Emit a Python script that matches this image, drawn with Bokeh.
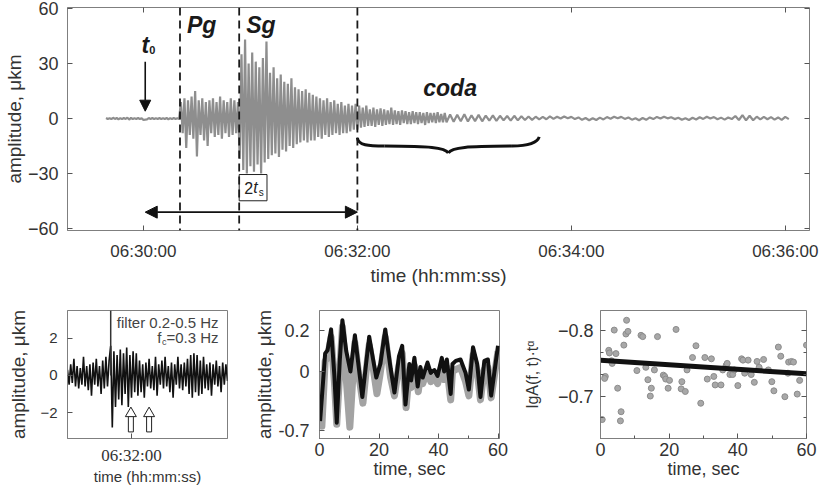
import numpy as np
from bokeh.plotting import figure
from bokeh.layouts import column, row
from bokeh.models import Range1d, FixedTicker, LinearAxis, Span, Arrow, NormalHead
from bokeh.core.properties import value
from bokeh.embed import file_html
from bokeh.resources import INLINE

FONT = "Liberation Sans"
FRAME = "#7f7f7f"
TICK = "#555555"
TXT = "#333333"

# ---------------- top panel: seismogram (seconds after 06:30:00) ----------------
amp_pre = [0.3, -0.2, 0.2, -0.3, 0.4, -0.2, 0.3, -0.4, 0.2, -0.3,
           0.3, -0.2, 0.5, -0.6, 0.4, -0.3, 0.2, -0.2, 0.3, -0.3,
           0.2, -0.8, -0.6, -0.5, 0.3, -0.2, 0.3, -0.3, 0.2, -0.2,
           0.3, -0.3, 0.2, -0.2, 0.3, -0.4, 0.2, -0.3, 0.3, -0.2,
           0.2, -0.3]
amp_pg = [9, -8, 11, -16, 10, -9, 12, -11, 15, -20.7,
          10, -9, 11, -12, 9, -15, 10, -8, 11, -10,
          9, -9, 12, -11, 10, -8, 9, -10, 11, -9,
          10, -8, 9]
amp_sg = [-22, 35, -28, 43, -30, 30, -26, 36, -29, 31,
          -25, 28, -30, 33, -24, 42, -22, 25, -20, 28,
          -19, 22, -21, 24, -17, 20, -18, 19, -15, 22,
          -16, 17, -14, 16, -13, 15, -12]
amp_late = [16, -13, 14, -12, 13, -12, 12, -10, 11, -11,
            10, -9, 11, -10, 9, -9, 10, -8, 8, -9,
            9, -8, 7, -8, 8, -7, 7, -6, 8, -6]
amp_coda = [7, -5, 6, -4.5, 7, -4, 5, -4, 6, -4.5,
            5, -3.5, 5.5, -4, 5, -3.5, 4.5, -3, 6, -3.5,
            4.5, -3, 4, -3.5, 4.5, -2.5, 4, -3, 3.5, -3,
            4, -2.5, 3.5, -3, 3.5, -2.5, 3, -3.5, 3.5, -2.5,
            3, -2, 3, -2.5, 3.5, -2, 2.5, -2, 3, -2]
amp_tail = [2.2, -1.8, 2.0, -1.5, 2.3, -1.6, 1.8, -1.4, 2.0, -1.5,
            1.6, -1.2, 1.7, -1.3, 1.5, -1.0, 1.4, -1.1, 1.5, -1.0,
            1.2, -0.8, 1.1, -0.7, 1.0, -0.5, 0.9, -0.4, 1.2, -0.2,
            1.0, 0.0, 1.1, 0.2, 0.9, -0.3, 0.6, -0.7, 0.3, -0.9,
            0.2, -0.8, 0.5, -0.5, 0.8, -0.1, 1.0, 0.1, 0.9, -0.2,
            0.6, -0.6, 0.2, -0.9, 0.3, -0.7, 0.6, -0.3, 0.9, 0.0,
            1.0, 0.1, 0.7, -0.3, 0.4, -0.7, 0.2, -0.8, 0.4, -0.5,
            0.7, -0.2, 1.0, 0.0, 0.8, -0.4, 0.5, -0.6, 0.6, -0.3,
            1.4, -0.8, 1.9, -1.0, 1.5, -0.9, 1.0, -0.5, 0.9, -0.4,
            0.8, -0.6, 0.6, -0.7, 0.9, -0.3]
seg_starts = [-21, 21, 54, 91, 121, 172]
seg_steps = [1, 1, 1, 1, 1, 2]
segments = [amp_pre, amp_pg, amp_sg, amp_late, amp_coda, amp_tail]

top_xticks = [0, 120, 240, 360]
top_xlabels = ["06:30:00", "06:32:00", "06:34:00", "06:36:00"]
top_yticks = [-60, -30, 0, 30, 60]

t0_time = 1
pg_time = 20.5
sg_time = 53.7
coda_time = 120
brace_end_time = 222
brace_tip_time = 171
coda_label_time = 172

# ---------------- bottom-left: filtered trace ----------------
bl_amp = [0.3, -0.5, 0.6, -0.4, 0.9, -0.6, 0.5, -0.7, 0.4, -0.5,
          1.0, -0.6, 0.5, -0.8, 0.6, -1.1, 0.7, -0.5, 0.9, -0.6,
          0.5, -1.0, 0.8, -0.7, 1.0, -0.6, 0.8, 1.6, -2.8, 1.3,
          -1.7, 1.1, -1.3, 1.4, -1.6, 1.2, -1.0, 1.5, -1.7, 1.1,
          -1.2, 1.3, -0.9, 1.2, -1.1, 0.8, -0.9, 0.6, -1.2, 0.7,
          -0.6, 0.9, -0.7, 0.5, -0.8, 1.0, -1.1, 0.6, -0.5, 0.8,
          -0.7, 1.0, -0.6, 0.5, -0.9, 0.7, -1.2, 0.6, -0.5, 1.0,
          -0.7, 0.6, -0.8, 0.7, -0.6, 0.9, -1.0, 1.1, -1.2, 1.2,
          -0.9, 1.1, -1.1, 0.8, -1.0, 1.0, -0.7, 0.6, -0.8, 0.7,
          -1.1, 0.6, -0.5, 0.8, -0.6, 0.5, -0.9, 0.7, -0.5, 0.6, -0.3]
bl_start = 80
bl_marker_time = 107
bl_arrow_times = [119.6, 131]
bl_xticks = [120]
bl_xlabels = ["06:32:00"]
bl_yticks = [-2, 0, 2]

# ---------------- bottom-middle: envelopes ----------------
black_t = [0.2, 1.2, 1.9, 2.7, 3.9, 5.0, 5.8, 6.8, 7.7, 9.0,
           10.4, 11.9, 13.2, 14.4, 15.6, 16.7, 18.0, 19.1, 20.5, 22.1,
           23.9, 25.2, 26.7, 27.8, 28.9, 30.2, 30.8, 31.9, 33.0, 33.9,
           34.7, 36.3, 37.4, 38.6, 39.7, 41.1, 41.9, 42.8, 44.1, 44.7,
           45.8, 47.4, 49.1, 50.2, 51.6, 53.0, 54.1, 55.4, 56.6, 57.7, 60.0]
black_v = [-0.244, -0.05, 0.089, 0.104, 0.207, -0.02, -0.252, 0.05, 0.252, 0.10,
           0.0, 0.178, 0.02, -0.126, 0.03, 0.171, 0.06, -0.030, 0.04, 0.207,
           0.015, -0.104, 0.074, 0.126, -0.163, 0.037, -0.044, 0.067, -0.074, 0.022,
           -0.030, 0.044, -0.007, 0.007, -0.022, 0.067, 0.0, 0.059, -0.111, 0.037,
           0.052, 0.059, -0.007, -0.089, 0.119, 0.037, -0.126, 0.052, 0.059, -0.119, 0.126]
gray_t = [0.2, 0.8, 1.9, 2.7, 3.9, 5.0, 5.8, 6.8, 7.7, 8.8,
          10.2, 11.9, 13.2, 14.6, 15.6, 16.7, 18.0, 19.3, 20.3, 22.1,
          23.9, 25.2, 26.7, 27.8, 29.1, 30.2, 30.8, 31.9, 33.2, 33.9,
          34.7, 36.3, 37.4, 38.6, 39.7, 41.1, 41.9, 42.8, 44.1, 44.7,
          45.8, 47.4, 49.1, 50.2, 51.6, 53.0, 54.1, 55.4, 56.6, 57.7, 60.0]
gray_v = [0.0, -0.27, 0.05, 0.07, 0.17, -0.05, -0.26, 0.0, 0.22, 0.0,
          -0.274, 0.14, -0.02, -0.156, -0.01, 0.13, 0.02, -0.11, -0.02, 0.17,
          -0.03, -0.12, 0.03, 0.09, -0.178, 0.0, -0.08, 0.03, -0.10, -0.02,
          -0.06, 0.01, -0.05, -0.03, -0.06, 0.03, -0.04, 0.02, -0.14, 0.0,
          0.01, 0.02, -0.05, -0.12, 0.08, 0.0, -0.14, 0.01, 0.02, -0.13, 0.10]
mid_yticks = [-0.289, 0, 0.2]
mid_ylabels = ["-0.7", "0", "0.2"]

# ---------------- bottom-right: scatter + fit ----------------
sc_t = [0.5, 1.4, 1.2, 2.4, 2.6, 3.2, 3.4, 4.0, 4.5, 5.0,
        6.0, 5.8, 6.8, 7.4, 7.6, 8.0, 10.6, 11.8, 12.3, 13.2,
        13.8, 14.5, 14.8, 15.7, 16.6, 18.3, 18.7, 19.0, 19.7, 20.1,
        22.0, 23.5, 24.7, 23.7, 25.2, 26.8, 27.8, 29.2, 30.4, 31.1,
        32.3, 33.0, 33.4, 35.1, 35.6, 36.6, 36.9, 37.7, 38.5, 39.0,
        40.0, 41.1, 41.5, 42.0, 43.0, 43.9, 44.8, 45.6, 46.2, 47.5,
        48.9, 49.9, 50.5, 51.8, 52.5, 53.7, 54.8, 55.6, 56.2, 54.6,
        57.3, 58.0, 60.0]
sc_v = [-0.664, -0.730, -0.727, -0.770, -0.766, -0.754, -0.750, -0.801, -0.765, -0.712,
        -0.676, -0.662, -0.778, -0.795, -0.816, -0.799, -0.739, -0.793, -0.791, -0.744,
        -0.725, -0.700, -0.712, -0.740, -0.791, -0.732, -0.730, -0.726, -0.712, -0.724,
        -0.802, -0.711, -0.707, -0.722, -0.740, -0.759, -0.777, -0.689, -0.759, -0.726,
        -0.757, -0.730, -0.717, -0.717, -0.740, -0.747, -0.750, -0.733, -0.733, -0.740,
        -0.716, -0.757, -0.755, -0.735, -0.755, -0.733, -0.721, -0.753, -0.744, -0.756,
        -0.740, -0.722, -0.708, -0.775, -0.761, -0.699, -0.752, -0.753, -0.752, -0.735,
        -0.703, -0.724, -0.778]
fit_t = [0, 60]
fit_v = [-0.755, -0.734]


def style(p, tick_size, title_size):
    p.outline_line_color = FRAME
    p.background_fill_color = "white"
    p.border_fill_color = "white"
    p.xgrid.visible = False
    p.ygrid.visible = False
    for ax in p.axis:
        ax.axis_line_color = FRAME
        ax.major_tick_in = 5
        ax.major_tick_out = 0
        ax.minor_tick_in = 3
        ax.minor_tick_out = 0
        ax.major_tick_line_color = TICK
        ax.minor_tick_line_color = TICK
        ax.major_label_text_font = FONT
        ax.major_label_text_font_size = tick_size
        ax.major_label_text_color = TXT
        ax.axis_label_text_font = FONT
        ax.axis_label_text_font_style = "normal"
        ax.axis_label_text_font_size = title_size
        ax.axis_label_text_color = TXT


def mirror(p, side, ticks, minor=None):
    ax = LinearAxis(ticker=FixedTicker(ticks=ticks, minor_ticks=minor or []),
                    major_label_overrides={t: "" for t in ticks},
                    major_label_text_font_size="0px", major_label_standoff=0,
                    axis_line_color=None, major_tick_in=5, major_tick_out=0,
                    minor_tick_in=3, minor_tick_out=0,
                    major_tick_line_color=TICK, minor_tick_line_color=TICK)
    p.add_layout(ax, side)


# ================= TOP =================
top = figure(width=820, height=288, output_backend="svg", toolbar_location=None,
             x_range=Range1d(-42.6, 373.6), y_range=Range1d(-61, 60.5),
             min_border_left=66, min_border_right=11, min_border_top=7, min_border_bottom=56)
wave_t = np.concatenate([s + st * np.arange(len(a)) for s, st, a in zip(seg_starts, seg_steps, segments)])
wave_v = np.concatenate([np.asarray(a, dtype=float) for a in segments])
top.line(wave_t, wave_v, line_color="#8e8e8e", line_width=2.2)

style(top, "17px", "19px")
top.xaxis.ticker = FixedTicker(ticks=top_xticks)
top.xaxis.major_label_overrides = dict(zip(top_xticks, top_xlabels))
top.xaxis.major_label_standoff = 11
top.xaxis.axis_label_standoff = 1
top.xaxis.axis_label = "time (hh:mm:ss)"
top.yaxis.ticker = FixedTicker(ticks=top_yticks)
top.yaxis.major_label_standoff = 9
top.yaxis.axis_label_standoff = 0
top.yaxis.axis_label = "amplitude, μkm"
top.yaxis.major_label_text_font_size = "18px"
mirror(top, "above", top_xticks)
mirror(top, "right", top_yticks)

for tt in [pg_time, sg_time, coda_time]:
    top.add_layout(Span(location=tt, dimension="height", line_color="#1a1a1a",
                        line_width=1.8, line_dash="8 5"))

top.add_layout(Arrow(end=NormalHead(size=11, fill_color="#111111", line_color="#111111"),
                     x_start=t0_time, y_start=31, x_end=t0_time, y_end=4,
                     line_width=1.6, line_color="#111111"))
top.add_layout(Arrow(start=NormalHead(size=12, fill_color="#111111", line_color="#111111"),
                     end=NormalHead(size=12, fill_color="#111111", line_color="#111111"),
                     x_start=t0_time, y_start=-51, x_end=coda_time, y_end=-51,
                     line_width=1.6, line_color="#111111"))

# curly brace under the coda
b0, bm, b1 = coda_time, brace_tip_time, brace_end_time
q1 = b0 + (bm - b0) * 0.3
q2 = b1 - (b1 - bm) * 0.3
top.bezier(x0=[b0, q1, bm, q2], y0=[-10.5, -15, -18.8, -15],
           x1=[q1, bm, q2, b1], y1=[-15, -18.8, -15, -10],
           cx0=[b0 + 0.5, q1 + 25, bm + 2, q2 + 9], cy0=[-14.5, -15.2, -15.5, -15],
           cx1=[b0 + 6, bm - 2, q2 - 25, b1 - 1], cy1=[-15, -15.5, -15.2, -13],
           line_color="#111111", line_width=3)

top.text(x=[pg_time, sg_time], y=[60.5, 60.5], text=["Pg", "Sg"], x_offset=7, y_offset=17,
         text_font=value(FONT), text_font_style="bold italic", text_font_size="23px",
         text_color="#1a1a1a", text_align="left", text_baseline="middle")
top.text(x=[coda_label_time], y=[16.6], text=["coda"], text_font=value(FONT),
         text_font_style="bold italic", text_font_size="23px", text_color="#1a1a1a",
         text_align="center", text_baseline="middle")
top.text(x=[t0_time], y=[40], text=["t"], text_font=value(FONT), text_font_style="bold italic",
         text_font_size="23px", text_color="#1a1a1a", text_align="center", text_baseline="middle")
top.text(x=[t0_time], y=[40], text=["0"], x_offset=7, y_offset=5, text_font=value(FONT),
         text_font_style="bold", text_font_size="11px", text_color="#1a1a1a",
         text_align="center", text_baseline="middle")
top.quad(left=[sg_time], right=[sg_time + 15.6], top=[-30.5], bottom=[-44.8],
         fill_color="white", line_color="#222222", line_width=1)
top.text(x=[sg_time], y=[-37.6], text=["2"], x_offset=5, text_font=value(FONT),
         text_font_size="16px", text_color="#222222", text_align="left", text_baseline="middle")
top.text(x=[sg_time], y=[-37.6], text=["t"], x_offset=14, text_font=value(FONT),
         text_font_style="italic", text_font_size="16px", text_color="#222222",
         text_align="left", text_baseline="middle")
top.text(x=[sg_time], y=[-37.6], text=["s"], x_offset=19.5, y_offset=5, text_font=value(FONT),
         text_font_size="10px", text_color="#222222", text_align="left", text_baseline="middle")

# ================= BOTTOM LEFT =================
bl = figure(width=245, height=202, output_backend="svg", toolbar_location=None,
            x_range=Range1d(80, 180), y_range=Range1d(-3.4, 3.5),
            min_border_left=67, min_border_right=18, min_border_top=22, min_border_bottom=52)
bl_t = bl_start + np.arange(len(bl_amp))
bl.line(bl_t, bl_amp, line_color="#111111", line_width=1.6)
bl.segment(x0=[bl_marker_time], y0=[0], x1=[bl_marker_time], y1=[3.5],
           line_color="#333333", line_width=1.5)
bl.rect(x=bl_arrow_times, y=[-2.62, -2.62], width=5, width_units="screen",
        height=[0.85, 0.85], fill_color="white", line_color="#222222", line_width=1)
bl.scatter(x=bl_arrow_times, y=[-2.05, -2.05], marker="triangle", size=11,
           fill_color="white", line_color="#222222", line_width=1)
bl.text(x=[180], y=[3.5], text=["filter 0.2-0.5 Hz"], x_offset=-9, y_offset=12,
        text_font=value(FONT), text_font_size="15px", text_color="#444444",
        text_align="right", text_baseline="middle")
bl.text(x=[180], y=[3.5], text=["=0.3 Hz"], x_offset=-9, y_offset=27,
        text_font=value(FONT), text_font_size="15px", text_color="#444444",
        text_align="right", text_baseline="middle")
bl.text(x=[180], y=[3.5], text=["c"], x_offset=-61, y_offset=31,
        text_font=value(FONT), text_font_size="9px", text_color="#444444",
        text_align="right", text_baseline="middle")
bl.text(x=[180], y=[3.5], text=["f"], x_offset=-66, y_offset=27,
        text_font=value(FONT), text_font_size="15px", text_color="#444444",
        text_align="right", text_baseline="middle")
style(bl, "15px", "19px")
bl.xaxis.ticker = FixedTicker(ticks=bl_xticks)
bl.xaxis.major_label_overrides = dict(zip(bl_xticks, bl_xlabels))
bl.xaxis.major_label_text_font = "Liberation Serif"
bl.xaxis.major_label_text_font_size = "17px"
bl.xaxis.major_label_standoff = 7
bl.xaxis.axis_label_standoff = 0
bl.xaxis.axis_label = "time (hh:mm:ss)"
bl.xaxis.axis_label_text_font_size = "15px"
bl.yaxis.ticker = FixedTicker(ticks=bl_yticks)
bl.yaxis.major_label_standoff = 10
bl.yaxis.axis_label_standoff = 8
bl.yaxis.axis_label = "amplitude, μkm"

# ================= BOTTOM MIDDLE =================
mid = figure(width=275, height=202, output_backend="svg", toolbar_location=None,
             x_range=Range1d(0, 60.5), y_range=Range1d(-0.33, 0.30),
             min_border_left=74, min_border_right=21, min_border_top=16, min_border_bottom=44)
mid.line(gray_t, gray_v, line_color="#a3a3a3", line_width=7, line_join="round")
mid.line(black_t, black_v, line_color="#111111", line_width=4, line_join="round")
style(mid, "18px", "18px")
mid.xaxis.ticker = FixedTicker(ticks=[0, 20, 40, 60], minor_ticks=[10, 30, 50])
mid.xaxis.major_label_standoff = 4
mid.xaxis.axis_label_standoff = 0
mid.xaxis.axis_label = "time, sec"
mid.yaxis.ticker = FixedTicker(ticks=mid_yticks)
mid.yaxis.major_label_overrides = dict(zip(mid_yticks, mid_ylabels))
mid.yaxis.major_label_standoff = 10
mid.yaxis.axis_label_standoff = 0
mid.yaxis.axis_label = "amplitude, μkm"
mid.yaxis.axis_label_text_font_size = "19px"

# ================= BOTTOM RIGHT =================
rp = figure(width=300, height=202, output_backend="svg", toolbar_location=None,
            x_range=Range1d(0, 60), y_range=Range1d(-0.635, -0.831),
            min_border_left=75, min_border_right=14, min_border_top=16, min_border_bottom=44)
rp.scatter(sc_t, sc_v, size=6, fill_color="#a8a8a8", line_color="#8c8c8c", line_width=1)
rp.line(fit_t, fit_v, line_color="#111111", line_width=5)
style(rp, "18px", "18px")
rp.xaxis.ticker = FixedTicker(ticks=[0, 20, 40, 60], minor_ticks=[10, 30, 50])
rp.xaxis.major_label_standoff = 4
rp.xaxis.axis_label_standoff = 0
rp.xaxis.axis_label = "time, sec"
rp.yaxis.ticker = FixedTicker(ticks=[-0.8, -0.7], minor_ticks=[-0.7667, -0.7333, -0.6667])
rp.yaxis.major_label_standoff = 7
rp.yaxis.axis_label_standoff = 14
rp.yaxis.axis_label = "lgA(f, t)·tᵅ"
rp.yaxis.axis_label_text_font_size = "16px"
mirror(rp, "right", [-0.8, -0.7], [-0.7667, -0.7333, -0.6667])

layout = column(top, row(bl, mid, rp))
open("out.html", "w").write(file_html(layout, INLINE))
